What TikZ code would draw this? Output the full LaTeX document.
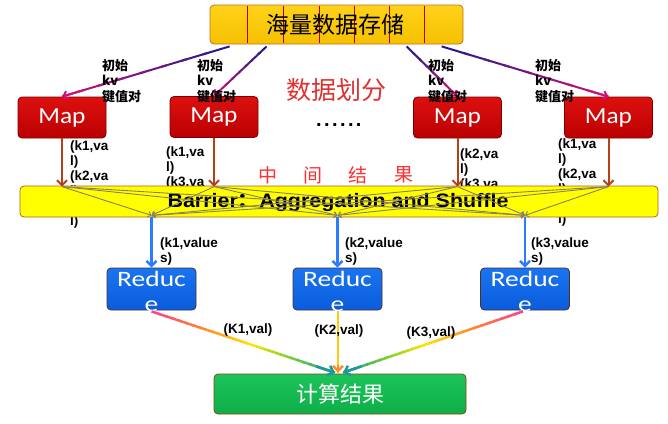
\documentclass[tikz,border=0pt]{standalone}
\usepackage{fontspec}
\usepackage{graphicx}
\setmainfont{Carlito}
\newfontfamily\cjk{Noto Sans CJK SC}
\newfontfamily\lab{Liberation Sans}
\newfontfamily\dotfont{Liberation Sans}[LetterSpace=12]
\usetikzlibrary{arrows.meta,calc}
\definecolor{goldA}{HTML}{FFD21A}
\definecolor{goldB}{HTML}{F5C000}
\definecolor{goldE}{HTML}{C07020}
\definecolor{mapA}{HTML}{DD1010}
\definecolor{mapB}{HTML}{BB0000}
\definecolor{mapE}{HTML}{7A0000}
\definecolor{barF}{HTML}{FFFF00}
\definecolor{barE}{HTML}{B0601A}
\definecolor{redA}{HTML}{1A74F0}
\definecolor{redB}{HTML}{0A5CDC}
\definecolor{redE}{HTML}{4A3030}
\definecolor{resA}{HTML}{1CC45A}
\definecolor{resB}{HTML}{0EAE48}
\definecolor{resE}{HTML}{8B4513}
\definecolor{brownar}{HTML}{B5401A}
\definecolor{bluear}{HTML}{2B7CFF}
\definecolor{grayar}{HTML}{8A8060}
\definecolor{navy}{HTML}{1A1A8C}
\definecolor{magen}{HTML}{D0107A}
\definecolor{rpink}{HTML}{FF3C8C}
\definecolor{rorange}{HTML}{FF8C28}
\definecolor{ryellow}{HTML}{FFE600}
\definecolor{rgreen}{HTML}{8CD628}
\definecolor{rteal}{HTML}{1A9A9A}
\definecolor{txtred}{HTML}{E03030}
\definecolor{txtred2}{HTML}{FF3030}
\newcommand\gradpart[6]{%
  \foreach \k in {0,...,7}{%
    \pgfmathsetmacro\ta{#5+(#6-#5)*\k/8}%
    \pgfmathsetmacro\tb{min(#6,#5+(#6-#5)*(\k+1.3)/8)}%
    \pgfmathtruncatemacro\pc{100-(\k+0.5)*12.5}%
    \draw[line width=\gw,#3!\pc!#4] ($(#1)!\ta!(#2)$) -- ($(#1)!\tb!(#2)$);
  }%
}
\newcommand\gw{2pt}
\begin{document}
\begin{tikzpicture}[x=1pt,y=-1pt,
  box/.style={draw,rounded corners=4pt,line width=0.8pt,inner sep=0pt},
  topbox/.style={box,draw=goldE,top color=goldA,bottom color=goldB,minimum width=253pt,minimum height=39pt},
  mapbox/.style={box,draw=mapE,top color=mapA,bottom color=mapB,minimum width=88pt,minimum height=41pt,
     text=white,font=\fontsize{23}{23}\selectfont},
  barbox/.style={box,draw=barE,fill=barF,minimum width=638pt,minimum height=31pt},
  redbox/.style={box,draw=redE,top color=redA,bottom color=redB,minimum width=89pt,minimum height=42pt},
  resbox/.style={box,draw=resE,top color=resA,bottom color=resB,minimum width=252pt,minimum height=40pt,
     text=white,font=\cjk\fontsize{22}{22}\selectfont},
  redtxt/.style={text=white,inner sep=0pt,anchor=base,font=\fontsize{22}{22}\selectfont},
  lbl/.style={inner sep=0pt,align=left,font=\lab\bfseries\fontsize{13.5}{15}\selectfont},
  cjklbl/.style={inner sep=0pt,align=left,font=\cjk\bfseries\fontsize{13}{15.5}\selectfont},
  vtip/.style={-{Straight Barb[length=5pt,width=10pt]}},
  brownarrow/.style={vtip,draw=brownar,line width=2pt},
  bluearrow/.style={vtip,draw=bluear,line width=2.5pt},
  grayarrow/.style={-{Straight Barb[length=3pt,width=6pt]},draw=grayar,line width=0.9pt}
]
\useasboundingbox (0,0) rectangle (668,423);
\fill[white] (0,0) rectangle (668,423);

% top storage box
\node[topbox] (store) at (336.5,24.5) {};
\foreach \xx in {247,283,319,354,389,424}{
  \draw[red!70!black,line width=0.6pt] (\xx,6) -- (\xx,43);
}
\node[inner sep=0pt,font=\cjk\fontsize{23}{23}\selectfont] (storetxt) at (335,25) {海量数据存储};

% map boxes
\node[mapbox] (m1) at (62,117.5) {\scalebox{1.1}[1]{Map}};
\node[mapbox] (m2) at (214,117) {\scalebox{1.1}[1]{Map}};
\node[mapbox] (m3) at (457.5,117.5) {\scalebox{1.1}[1]{Map}};
\node[mapbox] (m4) at (608.5,117.5) {\scalebox{1.1}[1]{Map}};

% middle texts
\node[text=txtred,inner sep=0pt,font=\cjk\fontsize{25}{25}\selectfont] (split) at (336,90) {数据划分};
\node[inner sep=0pt,font=\dotfont\bfseries\fontsize{20}{20}\selectfont,anchor=base west] (dots) at (316,126) {......};
\node[text=txtred2,inner sep=0pt,font=\cjk\fontsize{19}{19}\selectfont] (mid1) at (268,175) {中};
\node[text=txtred2,inner sep=0pt,font=\cjk\fontsize{19}{19}\selectfont] (mid2) at (313,175) {间};
\node[text=txtred2,inner sep=0pt,font=\cjk\fontsize{19}{19}\selectfont] (mid3) at (358,175) {结};
\node[text=txtred2,inner sep=0pt,font=\cjk\fontsize{19}{19}\selectfont] (mid4) at (404,175) {果};

% gradient arrows from storage to maps
\coordinate (s1) at ($(store.south west)+(20,2)$);
\coordinate (s2) at ($(store.south west)+(57,2)$);
\coordinate (s3) at ($(store.south west)+(197,2)$);
\coordinate (s4) at ($(store.south west)+(232,2)$);
\foreach \i in {1,...,4}{
  \gradpart{s\i}{m\i.north}{navy}{magen}{0}{1}
  \draw[-{Straight Barb[length=4pt,width=8pt]},line width=2pt,magen] ($(s\i)!0.9!(m\i.north)$) -- (m\i.north);
}
\node[cjklbl,anchor=north west] (k1) at (102,59) {初始\\kv\\键值对};
\node[cjklbl,anchor=north west] (k2) at (197,59) {初始\\kv\\键值对};
\node[cjklbl,anchor=north west] (k3) at (428,59) {初始\\kv\\键值对};
\node[cjklbl,anchor=north west] (k4) at (535,59) {初始\\kv\\键值对};

% map output labels (partly hidden by the barrier)
\node[lbl,anchor=north west] (ml1) at (70,141) {(k1,va\\l)\\(k2,va\\l)\\(k3,va\\l)};
\node[lbl,anchor=north west] (ml2) at (166,147) {(k1,va\\l)\\(k3,va\\l)};
\node[lbl,anchor=north west] (ml3) at (460,149) {(k2,va\\l)\\(k3,va\\l)};
\node[lbl,anchor=north west] (ml4) at (558,139) {(k1,va\\l)\\(k2,va\\l)\\(k3,va\\l)};

% barrier
\node[barbox] (bar) at (339,201.5) {};
\node[inner sep=0pt,font=\lab\bfseries\fontsize{19.5}{19.5}\selectfont] (bartxt) at (338,202)
  {\scalebox{1.1}[1]{Barrier{\cjk\bfseries ：}Aggregation and Shuffle}};

% reduce boxes
\node[redbox] (r1) at (151.5,289) {};
\node[redbox] (r2) at (337.5,289) {};
\node[redbox] (r3) at (525,289) {};
\foreach \i in {1,2,3}{
  \node[redtxt] (r\i a) at ($(r\i)+(0,-3)$) {\scalebox{1.25}[1]{Reduc}};
  \node[redtxt] (r\i b) at ($(r\i)+(0,22)$) {\scalebox{1.25}[1]{e}};
}

% result box
\node[resbox] (res) at (340,394) {计算结果};

% arrows map -> barrier
\foreach \i in {1,...,4}{
  \coordinate (t\i) at ($(m\i.south |- bar.north)+(0,1)$);
  \draw[brownarrow] (m\i.south) -- (t\i);
}
\foreach \j in {1,2,3}{
  \coordinate (b\j) at ($(r\j.north |- bar.south)+(0,-2)$);
}
\foreach \i in {1,...,4}{
  \foreach \j in {1,2,3}{
    \draw[grayarrow] (t\i) -- (b\j);
  }
}
% barrier -> reduce
\foreach \j in {1,2,3}{
  \coordinate (bb\j) at (r\j.north |- bar.south);
  \draw[bluearrow] (bb\j) -- (r\j.north);
}
\node[lbl,anchor=north west] (v1) at (160,238) {(k1,value\\s)};
\node[lbl,anchor=north west] (v2) at (345,238) {(k2,value\\s)};
\node[lbl,anchor=north west] (v3) at (531,238) {(k3,value\\s)};

% rainbow arrows reduce -> result
\renewcommand\gw{2.5pt}
\coordinate (e1) at ($(r1.south)+(0,1)$);
\coordinate (e3) at ($(r3.south)+(-2,1)$);
\coordinate (e2) at ($(r2.south)+(0.5,1)$);
\coordinate (f1) at ($(res.north)+(-5,-1)$);
\coordinate (f2) at ($(res.north)+(-2,-1)$);
\coordinate (f3) at ($(res.north)+(3,-1)$);
\foreach \i in {1,3}{
  \gradpart{e\i}{f\i}{rpink}{rorange}{0}{0.3}
  \gradpart{e\i}{f\i}{rorange}{ryellow}{0.3}{0.55}
  \gradpart{e\i}{f\i}{ryellow}{rgreen}{0.55}{0.72}
  \gradpart{e\i}{f\i}{rgreen}{rteal}{0.72}{1}
  \draw[-{Straight Barb[length=5pt,width=10pt]},line width=2.5pt,rteal] ($(e\i)!0.9!(f\i)$) -- (f\i);
}
\gradpart{e2}{f2}{ryellow}{ryellow!70!rorange}{0}{1}
\draw[-{Straight Barb[length=5pt,width=10pt]},line width=2.5pt,rorange] ($(e2)!0.88!(f2)$) -- (f2);
\node[lbl] (w1) at (248,330) {(K1,val)};
\node[lbl] (w2) at (339,331) {(K2,val)};
\node[lbl] (w3) at (431,333) {(K3,val)};
\end{tikzpicture}
\end{document}
